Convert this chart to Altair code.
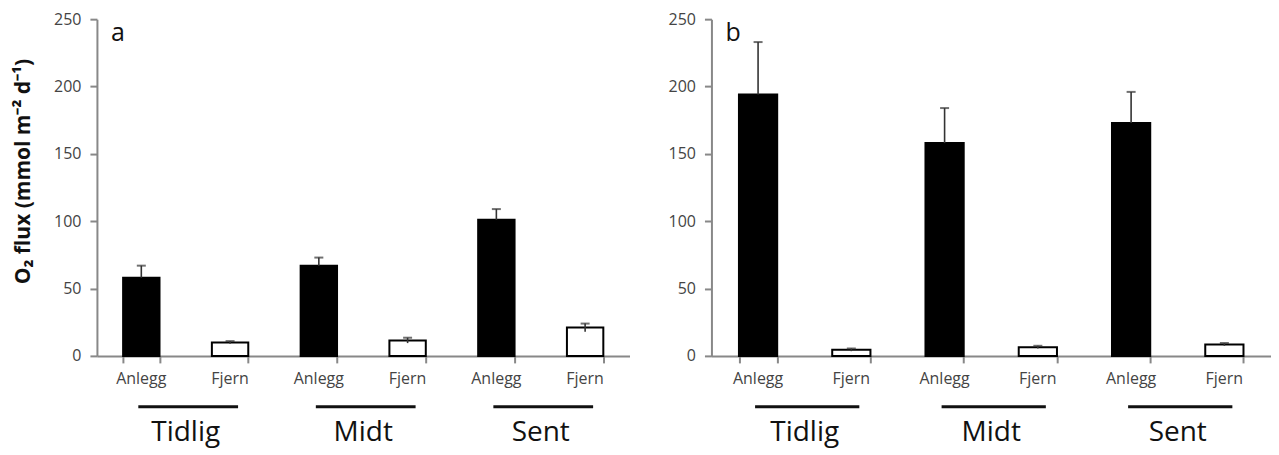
import altair as alt
import pandas as pd

# ---- data ----
periods = ["Tidlig", "Midt", "Sent"]
sites = ["Anlegg", "Fjern"]
panel_letters = ["a", "b"]
a_mean = [58, 10, 67, 11.5, 101, 21]
a_err = [9, 1, 6, 2, 8, 3]
b_mean = [194, 4.5, 158, 6.5, 173, 8.5]
b_err = [39, 1, 26, 1, 23, 1]
y_ticks = [0, 50, 100, 150, 200, 250]
y_title = "O₂ flux (mmol m⁻² d⁻¹)"

FONT = "Open Sans"
H = 337


def make_df(means, errs):
    rows = []
    i = 0
    for p in periods:
        for s in sites:
            m, e = means[i], errs[i]
            rows.append({"key": f"{p}|{s}", "period": p, "site": s,
                         "mean": m, "hi": m + e,
                         # lower whisker only shows inside the white bars
                         "lo": m if s == sites[0] else m - e})
            i += 1
    return pd.DataFrame(rows)


def panel(means, errs, letter, width, show_title):
    df = make_df(means, errs)
    order = list(df["key"])
    step = width / 6.0
    xscale = alt.Scale(domain=order, paddingInner=0.59, paddingOuter=0.295)
    xenc = alt.X("key:N", scale=xscale, sort=order,
                 axis=alt.Axis(title=None, labels=False, tickBand="extent", tickSize=7,
                               tickColor="#888", tickWidth=2, domainColor="#888", domainWidth=2))
    ykw = dict(values=y_ticks, grid=False, domainColor="#888", domainWidth=2,
               tickColor="#888", tickWidth=2, tickSize=7, labelPadding=9,
               labelFont=FONT, labelFontSize=16, labelColor="#444")
    if show_title:
        yaxis = alt.Axis(title=y_title, titleFont=FONT, titleFontSize=21, titleFontWeight="bold",
                         titleColor="#111", titlePadding=20, titleY=152, **ykw)
    else:
        yaxis = alt.Axis(title=None, **ykw)
    yscale = alt.Scale(domain=[0, 250], nice=False)
    base = alt.Chart(df)
    bars = base.mark_bar(stroke="black", strokeWidth=2).encode(
        x=xenc,
        y=alt.Y("mean:Q", scale=yscale, axis=yaxis),
        fill=alt.Fill("site:N", scale=alt.Scale(domain=sites, range=["#000000", "#ffffff"]), legend=None),
    )
    err = base.mark_rule(color="#333", strokeWidth=1.6).encode(
        x=alt.X("key:N", sort=order), y="lo:Q", y2="hi:Q")
    cap_hi = base.mark_tick(color="#333", thickness=2, size=9).encode(
        x=alt.X("key:N", sort=order), y="hi:Q")
    site_lbl = base.mark_text(font=FONT, fontSize=16, color="#444", baseline="alphabetic").encode(
        x=alt.X("key:N", sort=order), y=alt.value(H + 28), text="site:N")
    gdf = df[df["site"] == sites[0]].copy()
    gdf["key2"] = list(df[df["site"] == sites[1]]["key"])
    gbase = alt.Chart(gdf)
    glines = gbase.mark_rule(color="#111", strokeWidth=3, xOffset=-3, x2Offset=8).encode(
        x=alt.X("key:N", sort=order), x2="key2:N", y=alt.value(H + 51))
    gtext = gbase.mark_text(font=FONT, fontSize=28, color="#111", baseline="alphabetic",
                            dx=step / 2).encode(
        x=alt.X("key:N", sort=order), y=alt.value(H + 85), text="period:N")
    let = alt.Chart(pd.DataFrame({"letter": [letter]})).mark_text(
        font=FONT, fontSize=25, color="#111", align="left", baseline="alphabetic").encode(
        x=alt.value(14), y=alt.value(22), text="letter:N")
    return alt.layer(bars, err, cap_hi, site_lbl, glines, gtext, let).properties(
        width=width, height=H)


pa = panel(a_mean, a_err, panel_letters[0], 533, True)
pb = panel(b_mean, b_err, panel_letters[1], 560, False)

chart = alt.hconcat(pa, pb, spacing=38).properties(
    padding={"left": 4, "top": 3, "right": 0, "bottom": 2},
    background="white",
).configure_view(stroke=None)

chart.save("out.html", embed_options={"renderer": "svg", "actions": False})
